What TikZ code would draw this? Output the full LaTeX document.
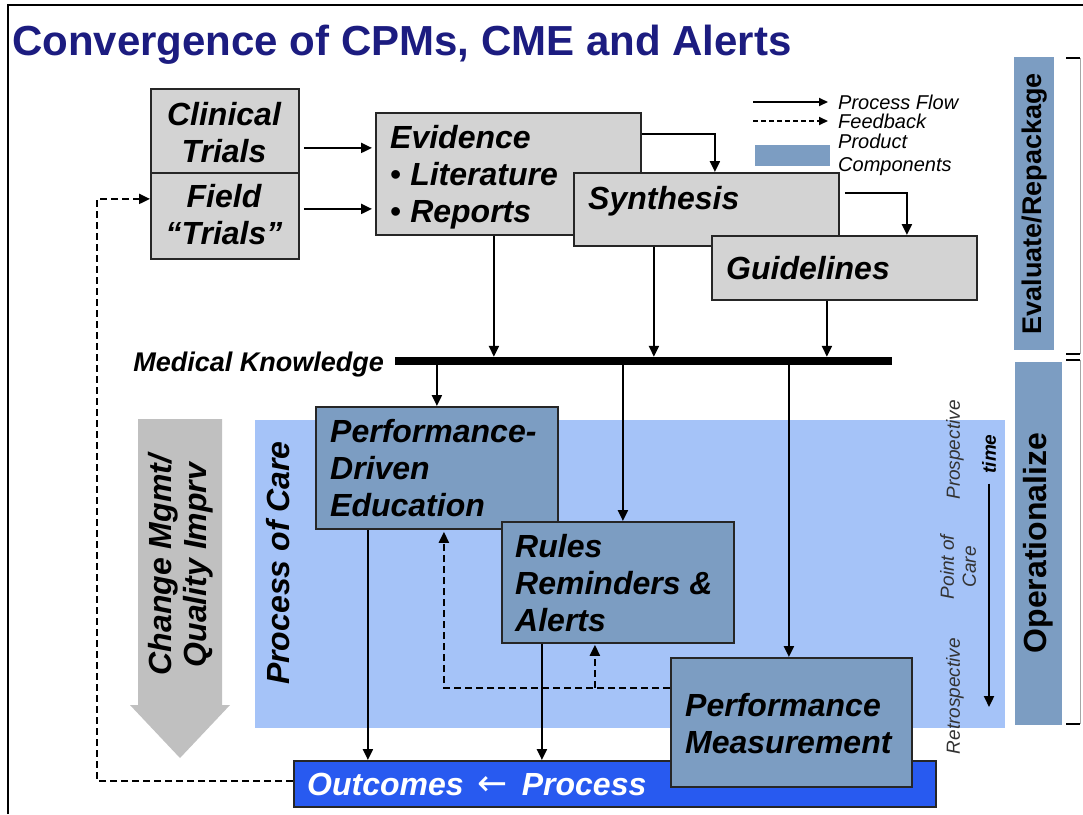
\documentclass[tikz,border=0pt]{standalone}
\usepackage{fontspec}
\setmainfont{Liberation Sans}
\newfontfamily\dejavu{DejaVu Sans}
\usetikzlibrary{arrows.meta}
\definecolor{boxgray}{RGB}{211,211,211}
\definecolor{steel}{RGB}{124,157,194}
\definecolor{pocblue}{RGB}{165,195,248}
\definecolor{outblue}{RGB}{40,90,240}
\definecolor{arrgray}{RGB}{192,192,192}
\definecolor{navy}{RGB}{28,28,128}
\newcommand\fs[2]{\fontsize{#1}{#2}\selectfont}
\tikzset{
  graybox/.style={draw=black!85, line width=1.8pt, fill=boxgray, anchor=north west, inner sep=0pt},
  bluebox/.style={draw=black!85, line width=1.8pt, fill=steel, anchor=north west, inner sep=0pt},
  bigtxt/.style={font=\fs{32}{37}\bfseries\itshape, inner sep=0pt, align=left, anchor=west},
  ctrtxt/.style={font=\fs{32}{37}\bfseries\itshape, inner sep=0pt, align=center},
  legtxt/.style={font=\fs{20}{23}\itshape, inner sep=0pt, align=left, anchor=west},
  sidetxt/.style={font=\fs{19}{22}\itshape, text=black!80, inner sep=0pt, align=center, rotate=90},
  flow/.style={line width=2.2pt, -{Triangle[length=11pt,width=10pt]}},
  fb/.style={flow, dash pattern=on 7pt off 4pt},
}
\begin{document}
\begin{tikzpicture}[x=1pt,y=-1pt]
\useasboundingbox (0,0) rectangle (1083,814);
\fill[white] (0,0) rectangle (1083,814);
% frame
\draw[line width=1.3pt] (8,814) -- (8,5) -- (1083,5);
% title
\node[anchor=base west, inner sep=0pt, font=\fs{42}{42}\bfseries, text=navy] (title) at (12,55) {Convergence of CPMs, CME and Alerts};

% legend
\coordinate (lg1) at (753,102);
\coordinate (lg2) at (828,102);
\coordinate (lg3) at (753,121);
\coordinate (lg4) at (828,121);
\draw[flow, line width=1.8pt, -{Triangle[length=9pt,width=8pt]}] (lg1) -- (lg2);
\draw[fb, line width=1.8pt, dash pattern=on 5pt off 3pt, -{Triangle[length=9pt,width=8pt]}] (lg3) -- (lg4);
\node[legtxt] (lgpf) at (838,102) {Process Flow};
\node[legtxt] (lgfb) at (838,121) {Feedback};
\node[fill=steel, minimum width=75pt, minimum height=21pt, anchor=north west, inner sep=0pt] (lgbox) at (755,145) {};
\node[legtxt] (lgpc) at (838,155) {Product\\Components};

% right column
\node[fill=steel, minimum width=40pt, minimum height=293pt, anchor=north west, inner sep=0pt] (evalbox) at (1014,57) {};
\node[rotate=90, font=\fs{27}{27}\bfseries, inner sep=0pt] (evaltxt) at (evalbox.center) {Evaluate/Repackage};
\node[fill=steel, minimum width=47pt, minimum height=363pt, anchor=north west, inner sep=0pt] (opbox) at (1015,362) {};
\node[rotate=90, font=\fs{32}{32}\bfseries, inner sep=0pt] (optxt) at (1038,543) {Operationalize};
\draw[gray!70, line width=0.8pt] (1080,58) -- (1080,354) (1080,360) -- (1080,724);
\draw[line width=1.3pt] (1066,58) -- (1080,58) (1066,354) -- (1080,354) (1066,360) -- (1080,360) (1066,724) -- (1080,724);

% process of care area
\node[fill=pocblue, minimum width=750pt, minimum height=308pt, anchor=north west, inner sep=0pt] (poc) at (255,420) {};
\node[rotate=90, font=\fs{32}{32}\bfseries\itshape, inner sep=0pt] (poctxt) at (278,563) {Process of Care};

% change management arrow
\fill[arrgray] (138,419) -- (222,419) -- (222,705) -- (230,705) -- (180,758) -- (130,705) -- (138,705) -- cycle;
\node[rotate=90, font=\fs{32}{35}\bfseries\itshape, inner sep=0pt, align=center] (cmtxt) at (181,565) {Change Mgmt/\\Quality Imprv};

% time axis
\node[sidetxt] (prosp) at (955,450) {Prospective};
\node[sidetxt] (poc2) at (958,567) {Point of\\Care};
\node[sidetxt] (retro) at (955,696) {Retrospective};
\node[rotate=90, font=\fs{19}{19}\bfseries\itshape, inner sep=0pt] (tm) at (989,454) {time};
\coordinate (tend) at (989,707);
\draw[flow] ([yshift=-10pt]tm.west) -- (tend);

% top boxes
\node[graybox, minimum width=148pt, minimum height=84pt] (clin) at (150,88) {};
\node[ctrtxt] (clintxt) at (224,133) {Clinical\\Trials};
\node[graybox, minimum width=148pt, minimum height=86pt] (field) at (150,172) {};
\node[ctrtxt] (fieldtxt) at (224,215) {Field\\“Trials”};
\node[graybox, minimum width=265pt, minimum height=122pt] (evi) at (375,112) {};
\node[bigtxt] (evitxt) at (390,177) {Evidence\\[-0.5pt]{\mdseries\upshape\textbullet} Literature\\{\mdseries\upshape\textbullet} Reports};
\node[graybox, minimum width=265pt, minimum height=73pt] (syn) at (573,172) {};
\node[bigtxt] (syntxt) at (588,201) {Synthesis};
\node[graybox, minimum width=265pt, minimum height=64pt] (gui) at (711,235) {};
\node[bigtxt] (guitxt) at (726,268) {Guidelines};

\coordinate (a1) at ([xshift=4pt,yshift=-17pt]clin.east);
\coordinate (a2) at ([xshift=4pt,yshift=7pt]field.east);
\draw[flow] (a1) -- ([xshift=-3pt]evi.west |- a1);
\draw[flow] (a2) -- ([xshift=-3pt]evi.west |- a2);
\draw[flow] ([yshift=40pt]evi.east) -| ([xshift=8.5pt]syn.north);
\draw[flow] ([xshift=5pt,yshift=16.5pt]syn.east) -| ([xshift=62.5pt]gui.north);

% medical knowledge bar
\node[fill=black, minimum width=497pt, minimum height=8pt, anchor=west, inner sep=0pt] (bar) at (395,361) {};
\node[anchor=east, inner sep=0pt, font=\fs{27}{27}\bfseries\itshape] (mk) at (384,364.5) {Medical Knowledge};
\draw[flow] ([xshift=-14.5pt]evi.south) -- ([xshift=-14.5pt]evi.south |- bar.north);
\draw[flow] ([xshift=-52.5pt]syn.south) -- ([xshift=-52.5pt]syn.south |- bar.north);
\draw[flow] ([xshift=-17.5pt]gui.south) -- ([xshift=-17.5pt]gui.south |- bar.north);

% lower boxes
\node[bluebox, minimum width=242pt, minimum height=122pt] (edu) at (315,406) {};
\node[bigtxt] (edutxt) at (330,468) {Performance-\\Driven\\Education};
\node[bluebox, minimum width=232pt, minimum height=121pt] (rul) at (501,521) {};
\node[bigtxt] (rultxt) at (515,583) {Rules\\Reminders \&\\Alerts};
\draw[flow] (bar.south -| edu.north) -- (edu.north);
\draw[flow] ([xshift=5pt]rul.north |- bar.south) -- ([xshift=5pt]rul.north);

\node[fill=outblue, draw=black!85, line width=1.8pt, minimum width=642pt, minimum height=46pt, anchor=north west, inner sep=0pt] (out) at (293,760) {};
\node[anchor=west, inner sep=0pt, text=white, font=\fs{32}{32}\bfseries\itshape] (outtxt) at (307,784) {Outcomes\kern14pt{\dejavu\mdseries\upshape\fs{36}{36}←}\kern14pt Process};

\draw[flow] ([xshift=-69pt]edu.south) -- ([xshift=-69pt]edu.south |- out.north);
\draw[flow] ([xshift=-76pt]rul.south) -- ([xshift=-76pt]rul.south |- out.north);

\node[bluebox, minimum width=241pt, minimum height=129pt] (pm) at (670,657) {};
\node[bigtxt] (pmtxt) at (685,724) {Performance\\Measurement};
\draw[flow] ([xshift=-2.5pt]pm.north |- bar.south) -- ([xshift=-2.5pt]pm.north);

% feedback
\coordinate (pmfb) at ([yshift=34.5pt]pm.west);
\draw[fb] (pmfb) -| ([xshift=7pt,yshift=-2pt]edu.south);
\draw[fb] ([xshift=-23pt]rul.south |- pmfb) -- ([xshift=-23pt,yshift=-1pt]rul.south);
\coordinate (fbc) at (97,0);
\draw[fb] ([yshift=3pt]out.west) -| ([yshift=17pt]field.west -| fbc) -- ([yshift=17pt]field.west);
\end{tikzpicture}
\end{document}
